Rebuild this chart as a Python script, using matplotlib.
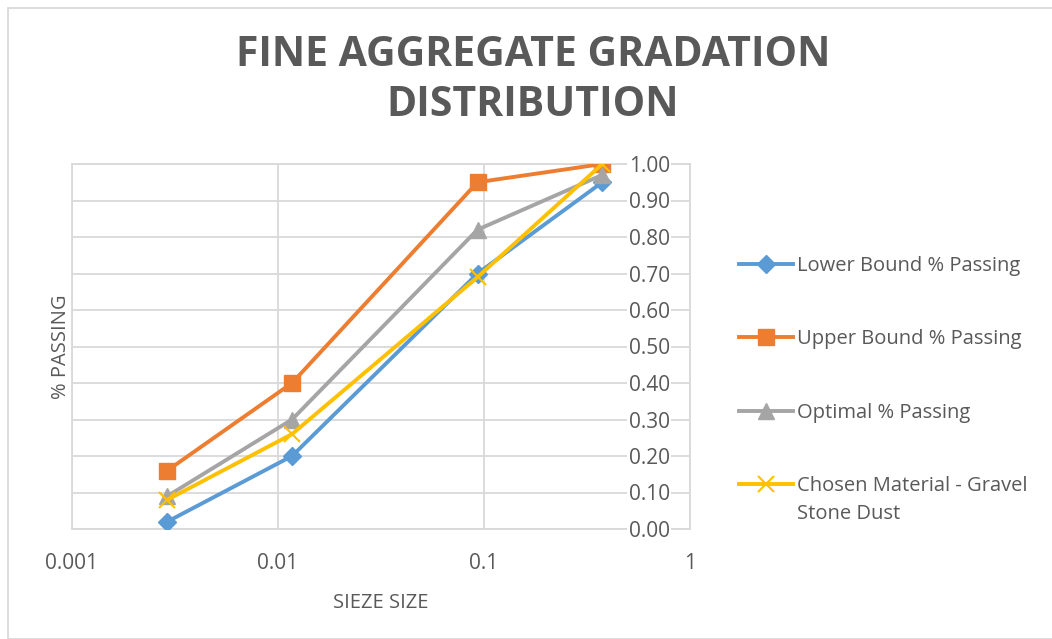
import matplotlib
matplotlib.use("Agg")
import matplotlib.pyplot as plt
from matplotlib.patches import Rectangle
from matplotlib.transforms import IdentityTransform

plt.rcParams['font.family'] = ['Open Sans', 'DejaVu Sans']

sieve_size = [0.0029, 0.0117, 0.093, 0.375]
lower = [0.02, 0.20, 0.70, 0.95]
upper = [0.16, 0.40, 0.95, 1.00]
optimal = [0.09, 0.30, 0.82, 0.97]
chosen = [0.08, 0.26, 0.69, 1.00]
x_ticks = [0.001, 0.01, 0.1, 1]
x_labels = ['0.001', '0.01', '0.1', '1']
y_ticks = [0.0, 0.1, 0.2, 0.3, 0.4, 0.5, 0.6, 0.7, 0.8, 0.9, 1.0]
y_cross = 0.375

txt = '#595959'
grid = '#d9d9d9'

fig = plt.figure(figsize=(10.52, 6.39), dpi=100)
ax = fig.add_axes([72 / 1052, 1 - 529 / 639, 618 / 1052, 365 / 639])

ax.plot(sieve_size, lower, color='#5B9BD5', lw=2.8, marker='D', ms=9, label='Lower Bound % Passing')
ax.plot(sieve_size, upper, color='#ED7D31', lw=2.8, marker='s', ms=12, label='Upper Bound % Passing')
ax.plot(sieve_size, optimal, color='#A5A5A5', lw=2.8, marker='^', ms=11, label='Optimal % Passing')
ax.plot(sieve_size, chosen, color='#FFC000', lw=2.8, marker='x', ms=11, mew=1.5,
        label='Chosen Material - Gravel')

ax.set_xscale('log')
ax.set_xlim(0.001, 1)
ax.set_ylim(0, 1)
ax.set_xticks(x_ticks)
ax.set_xticklabels(x_labels)
ax.minorticks_off()
ax.set_yticks(y_ticks)
ax.set_yticklabels(['%.2f' % v for v in y_ticks])

ax.grid(True, color=grid, lw=1.3)
ax.set_axisbelow(True)
for s in ['top', 'bottom', 'left']:
    ax.spines[s].set_color(grid)
    ax.spines[s].set_linewidth(1.3)
    ax.spines[s].set_zorder(0.4)
ax.spines['right'].set_position(('data', y_cross))
ax.spines['right'].set_visible(False)
ax.yaxis.tick_right()
ax.tick_params(axis='y', length=0, pad=19, labelsize=15, labelcolor=txt)
ax.tick_params(axis='x', length=0, pad=17, labelsize=15, labelcolor=txt)
for t in ax.get_yticklabels():
    t.set_bbox(dict(facecolor='white', edgecolor='none', pad=1))
# right border line at x=1
ax.axvline(1, color=grid, lw=1.3, clip_on=False, zorder=0.4)

ax.set_xlabel('SIEZE SIZE', fontsize=14.5, color=txt, labelpad=14)
ax.set_ylabel('% PASSING', fontsize=14.5, color=txt, labelpad=1)

fig.text(533 / 1052, 1 - 55 / 639, 'FINE AGGREGATE GRADATION', ha='center', va='center',
         fontsize=29.5, fontweight='bold', color=txt)
fig.text(533 / 1052, 1 - 105 / 639, 'DISTRIBUTION', ha='center', va='center',
         fontsize=29.5, fontweight='bold', color=txt)

leg = fig.legend(loc='center left', bbox_to_anchor=(0.6948, 1 - 376 / 639), frameon=False,
                 fontsize=14.5, labelcolor=txt, handlelength=2.7, handletextpad=0.2,
                 labelspacing=2.65, borderaxespad=0)

# second line of the last legend entry, under its first line
fig.canvas.draw()
bb = leg.get_texts()[-1].get_window_extent()
fig.text(bb.x0, bb.y0 - 28, 'Stone Dust', transform=IdentityTransform(),
         ha='left', va='bottom', fontsize=14.5, color=txt)

fig.patches.append(Rectangle((8 / 1052, 0), 1, 1 - 8 / 639, transform=fig.transFigure,
                             fill=False, edgecolor=grid, lw=1.3))

fig.savefig('out.png', dpi=100)
